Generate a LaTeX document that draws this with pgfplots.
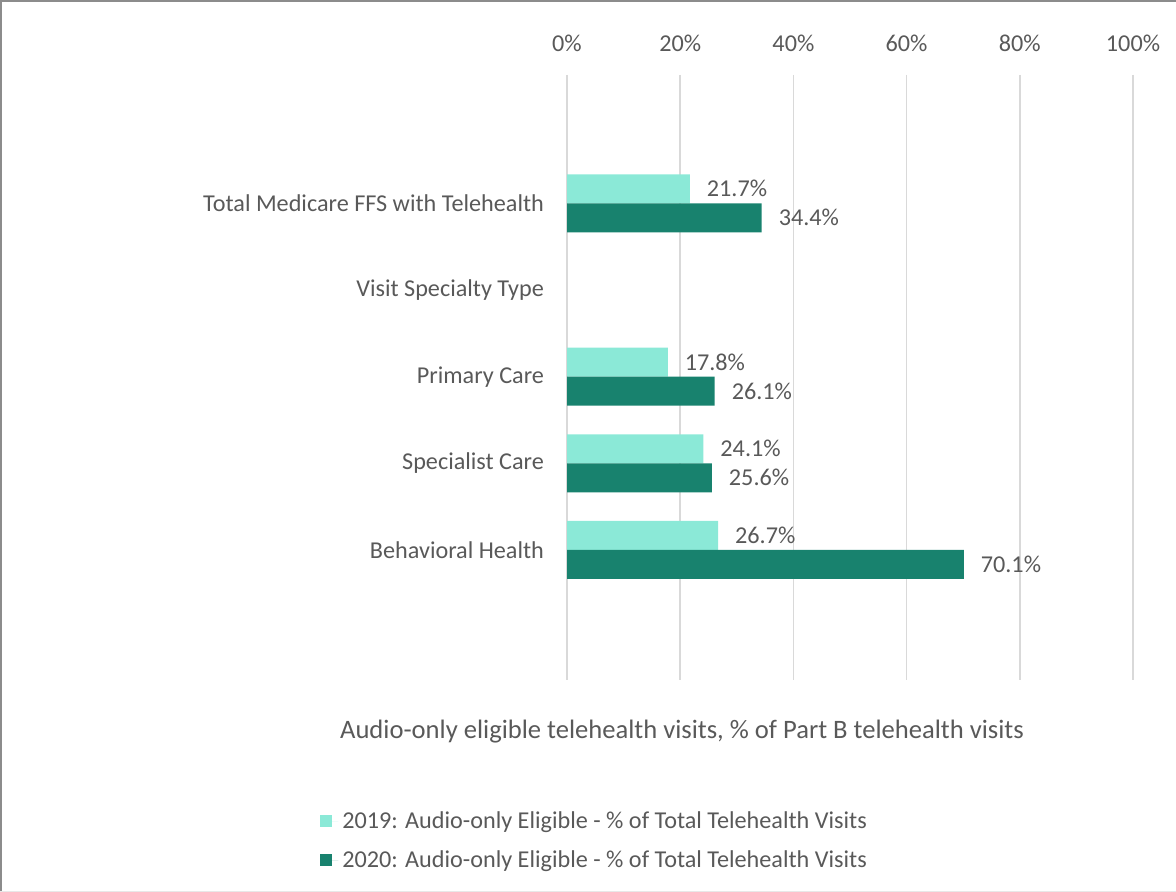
\documentclass[border=0pt]{standalone}
\usepackage{fontspec}
\setmainfont{Carlito}
\usepackage{pgfplots}
\pgfplotsset{compat=1.18}
\definecolor{c19}{HTML}{8BE9D7}
\definecolor{c20}{HTML}{18826E}
\definecolor{txt}{HTML}{595959}
\definecolor{gridc}{HTML}{D9D9D9}
\definecolor{frame}{HTML}{8C8C8C}
\begin{document}
\begin{tikzpicture}[x=1pt,y=1pt]
  \path[use as bounding box] (0,0) rectangle (588,446);
  \draw[frame, line width=1pt] (0.6,0) -- (0.6,445.4) -- (588,445.4);
  \draw[gridc!60, line width=0.6pt] (0,0.4) -- (588,0.4);
  \begin{axis}[
      at={(283.5pt,106pt)}, anchor=south west,
      scale only axis, width=283pt, height=302.5pt,
      xbar, bar width=14.5pt,
      xmin=0, xmax=100,
      ymin=-0.48, ymax=6.5, y dir=reverse,
      axis line style={draw=none},
      major tick length=0pt,
      xtick={0,20,40,60,80,100},
      xticklabels={0\%,20\%,40\%,60\%,80\%,100\%},
      xticklabel pos=right,
      xmajorgrids, grid style={gridc, line width=0.75pt},
      ytick={1,2,3,4,5},
      yticklabels={Total Medicare FFS with Telehealth, Visit Specialty Type, Primary Care, Specialist Care, Behavioral Health},
      ticklabel style={font=\fontsize{12.1}{14}\selectfont, text=txt},
      xticklabel style={yshift=8pt},
      yticklabel style={xshift=-8pt},
      point meta=x,
      /pgf/number format/assume math mode=true,
      nodes near coords={\pgfmathprintnumber[fixed,precision=1,fixed zerofill]{\pgfplotspointmeta}\%},
      every node near coord/.append style={font=\fontsize{12.1}{14}\selectfont, text=txt, anchor=west, xshift=5pt},
      legend style={at={(-0.4365,-0.21)}, anchor=north west, draw=none, fill=none,
        font=\fontsize{12.1}{14}\selectfont, text=txt, row sep=5.5pt,
        inner sep=0pt, cells={anchor=west}},
      legend image code/.code={\fill[#1, draw=none] (0pt,-3pt) rectangle (6pt,3pt); \path (0pt,0pt) -- (9pt,0pt);},
    ]
    \addplot[fill=c19, draw=none, bar shift=7.25pt] coordinates {(21.7,1) (17.8,3) (24.1,4) (26.7,5)};
    \addplot[fill=c20, draw=none, bar shift=-7.25pt] coordinates {(34.4,1) (26.1,3) (25.6,4) (70.1,5)};
    \legend{2019: Audio-only Eligible - \% of Total Telehealth Visits, 2020: Audio-only Eligible - \% of Total Telehealth Visits}
  \end{axis}
  \node[font=\fontsize{13.3}{15}\selectfont, text=txt] at (341,80) {Audio-only eligible telehealth visits, \% of Part B telehealth visits};
\end{tikzpicture}
\end{document}
